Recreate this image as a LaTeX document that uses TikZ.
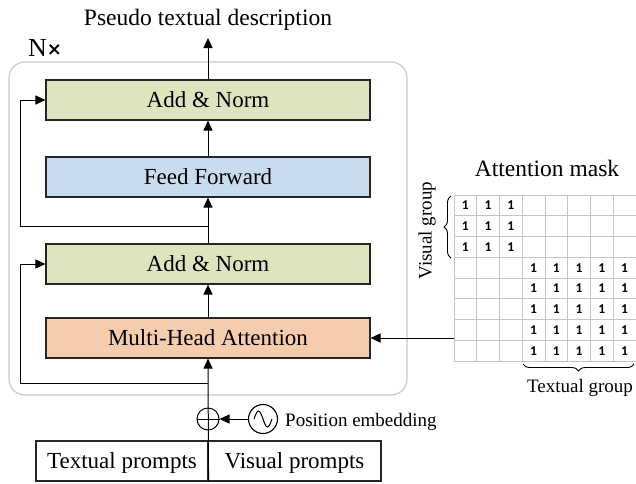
\documentclass[tikz,border=0pt]{standalone}
\usepackage{fontspec}
\setmainfont{Liberation Serif}
\newfontfamily\calib{Carlito}
\newfontfamily\djv{DejaVu Sans}
\usetikzlibrary{arrows.meta,decorations.pathreplacing,calc}
\definecolor{gAN}{HTML}{DDE5BF}
\definecolor{gFF}{HTML}{C9DCEF}
\definecolor{gMHA}{HTML}{F6CCAE}
\definecolor{gOut}{HTML}{C8C8C8}
\definecolor{gGrid}{HTML}{C4C4C4}
\begin{document}
\begin{tikzpicture}[x=1pt,y=-1pt,
  blk/.style={draw=black!85, line width=1.1pt, minimum width=324pt, minimum height=40pt, inner sep=0pt, text depth=0pt, font=\fontsize{23}{26}\selectfont},
  pbox/.style={draw=black!85, line width=1.1pt, minimum height=40pt, inner sep=0pt, text depth=0pt, font=\fontsize{23}{26}\selectfont},
  arr/.style={-{Triangle[length=10pt,width=9pt]}, line width=1pt},
  ln/.style={line width=1pt},
  lbl/.style={font=\fontsize{19}{22}\selectfont, inner sep=0pt},
  big/.style={font=\fontsize{23.5}{26}\selectfont, inner sep=0pt},
  one/.style={font=\calib\bfseries\fontsize{13.5}{15}\selectfont, inner sep=0pt},
  brc/.style={decorate, decoration={brace, amplitude=7pt}, line width=0.9pt}
]
\useasboundingbox (0,0) rectangle (636,483);

% outer frame
\node[draw=gOut, line width=1.1pt, rounded corners=16pt, minimum width=398pt, minimum height=333pt, inner sep=0pt] (outer) at (208,228.5) {};
\node[anchor=base west, inner sep=0pt, font=\fontsize{26}{28}\selectfont] (nx) at (28,56) {N\raisebox{0.5pt}{\djv\bfseries\fontsize{18}{19}\selectfont ×}};

% blocks
\node[blk, fill=gAN] (an2) at (208,100) {Add \& Norm};
\node[blk, fill=gFF] (ff) at (208,177) {Feed Forward};
\node[blk, fill=gAN] (an1) at (208,264) {Add \& Norm};
\node[blk, fill=gMHA] (mha) at (208,338) {Multi-Head Attention};

% prompts
\node[pbox, minimum width=172pt] (tp) at (122,461) {Textual prompts};
\node[pbox, minimum width=173pt] (vp) at (294.5,461) {Visual prompts};

% plus and position embedding
\node[circle, draw, line width=1pt, minimum size=22pt, inner sep=0pt] (plus) at (208,419) {};
\draw[ln] (plus.west) -- (plus.east);
\node[circle, draw, line width=1.1pt, minimum size=29pt, inner sep=0pt] (pe) at (263,419) {};
\draw[line width=1pt] ($(pe.center)+(-9,0)$) sin ++(4.5,-8) cos ++(4.5,8) sin ++(4.5,8) cos ++(4.5,-8);
\node[lbl, anchor=base west] (pel) at (285,426) {Position embedding};
\draw[arr] (pe.west) -- (plus.east);

% main flow
\draw[arr] (tp.south east) -- (mha.south);
\draw[arr] (mha.north) -- (an1.south);
\draw[arr] (an1.north) -- (ff.south);
\draw[arr] (ff.north) -- (an2.south);
\coordinate (top) at (208,38);
\draw[arr] (an2.north) -- (top);
\node[big, anchor=base] (out) at (208,25) {Pseudo textual description};

% residuals
\coordinate (r1) at (208,383);
\draw[arr] (r1) -| ($(an1.west)+(-25,0)$) -- (an1.west);
\coordinate (r2) at (208,226);
\draw[arr] (r2) -| ($(an2.west)+(-25,0)$) -- (an2.west);

% attention mask grid
\def\gx{454}\def\gy{195}\def\cw{22.75}\def\rh{20.75}
\foreach \i in {0,...,8} {
  \draw[gGrid, line width=1pt] (\gx+\i*\cw,\gy) -- (\gx+\i*\cw,\gy+8*\rh);
  \draw[gGrid, line width=1pt] (\gx,\gy+\i*\rh) -- (\gx+8*\cw,\gy+\i*\rh);
}
\foreach \r in {1,2,3} \foreach \c in {1,2,3}
  \node[one] at (\gx+\c*\cw-0.5*\cw,\gy+\r*\rh-0.5*\rh) {1};
\foreach \r in {4,...,8} \foreach \c in {4,...,8}
  \node[one] at (\gx+\c*\cw-0.5*\cw,\gy+\r*\rh-0.5*\rh) {1};
\coordinate (gl) at (\gx,338);
\draw[arr] (gl) -- (mha.east);

\node[big, anchor=base] (am) at (547,176) {Attention mask};
\draw[brc] (451,258) -- (451,196);
\node[lbl, rotate=90] (vg) at (427,230.5) {Visual group};
\draw[brc] (634,364) -- (523,364);
\node[lbl, anchor=base] (tg) at (580,392) {Textual group};
\end{tikzpicture}
\end{document}
